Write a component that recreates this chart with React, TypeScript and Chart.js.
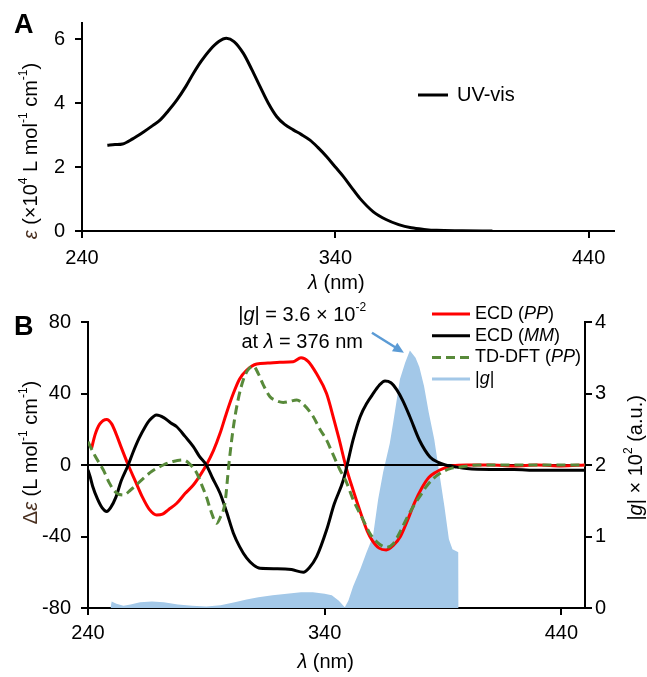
import React, { useEffect, useRef } from 'react';
import { Chart, registerables } from 'chart.js';
Chart.register(...registerables);

const FONT = '"Liberation Sans", Arial, Helvetica, sans-serif';

// ---------- Panel A : UV-vis ----------
const uvLambda = [250, 253, 256, 260, 264, 268, 271, 274, 277.4, 281, 284, 287, 290.5, 294, 297, 300, 303.7, 307, 310.3, 313.5, 316.9, 320, 323.4, 326.5, 330, 333, 336.6, 340, 343.2, 346.5, 349.7, 355, 360, 365, 370, 375, 380, 390, 402];
const uvEps = [2.68, 2.7, 2.72, 2.88, 3.08, 3.3, 3.48, 3.75, 4.09, 4.52, 4.93, 5.3, 5.66, 5.92, 6.02, 5.92, 5.55, 5.05, 4.51, 4.0, 3.57, 3.33, 3.16, 3.02, 2.84, 2.62, 2.32, 2.0, 1.7, 1.35, 1.02, 0.6, 0.36, 0.2, 0.1, 0.05, 0.02, 0.01, 0];
const uvTicksX = [240, 340, 440];
const uvTicksY = [0, 2, 4, 6];

// ---------- Panel B : ECD ----------
const ppLambda = [241.5, 243, 245, 247.9, 250, 252, 254, 257, 260, 263, 266, 269, 271.5, 274, 277.5, 281, 284.5, 287.5, 290, 293, 295.8, 298.5, 301.4, 304, 307, 311.3, 316, 321, 326.7, 330, 333, 336.6, 340.8, 344, 346, 349, 352, 355, 358, 360, 363, 366, 369, 372, 375, 378, 381, 384, 387, 390, 394, 400, 410, 420, 430, 440, 450];
const ppValues = [9.3, 17, 23, 25.5, 23, 17, 10, 0, -9, -18, -25, -28, -27.5, -25, -21.4, -16, -11.2, -5.5, 0, 8, 17.7, 29, 40, 48, 53, 56.5, 57, 57.5, 57.8, 60, 58, 51, 40, 25, 15, -1, -14, -26, -37, -42, -46.5, -47.5, -45, -40, -31, -21, -13, -7, -4, -2, -0.5, 0, 0, -0.5, 0, -0.5, 0];

const mmLambda = [240, 241, 242, 244, 246, 247.9, 249.5, 251.8, 254, 257, 259, 261.6, 264, 266, 269, 272, 275, 277.5, 281, 284.5, 287, 290, 292.5, 295.8, 298.5, 301.4, 304, 307, 310, 312.7, 320, 326, 331, 333.5, 336.6, 340.8, 344, 347.9, 349.5, 352, 355, 358, 360, 363, 365.5, 368, 370.5, 373, 376, 380, 384.5, 388, 391, 395, 400, 410, 420, 430, 440, 450];
const mmValues = [-2.8, -7, -12, -19, -24, -26, -24, -18, -9, 0, 7, 15, 21, 25, 28, 26.5, 23.5, 21.4, 16, 10.3, 5, 0, -7, -15.8, -26, -38, -45.5, -52, -56, -57.8, -58, -58.5, -60, -57.5, -51.3, -36.4, -22, -8.4, 0, 14, 27, 35, 39, 44.5, 47, 46, 42, 36, 27, 14, 4.5, 1.5, 0, -1, -2, -2.5, -2.5, -3, -3, -3];

const dftLambda = [240, 243, 246.5, 249, 251.5, 254.9, 258, 263.4, 267, 271.8, 276, 280.3, 283, 286, 288, 290, 292, 294.4, 296, 297.9, 299.5, 301.4, 303.5, 305.6, 307.5, 309.8, 312, 314, 316.9, 319.5, 322.5, 325, 328.2, 331, 335.2, 338, 340.8, 343, 346.5, 349, 352.1, 356, 359, 362, 366, 369, 372, 375, 378, 381, 383, 386, 389, 393, 398, 405, 450];
const dftValues = [13, 5, -2.8, -10, -15, -16.8, -14, -7.5, -3.5, 0, 2, 2.8, 0.5, -4.6, -11, -17.7, -26, -32.6, -29, -21, 0, 21, 37, 47.5, 53, 55.4, 51, 45, 38.2, 36, 35, 35.5, 36.4, 34, 27, 20, 14, 7.5, -2.8, -9, -19.6, -30, -38, -43, -46, -44, -37, -29, -22, -16, -12, -7.5, -4.5, -2, -1, 0, 0];

const gLambda = [249.5, 250, 252, 255, 258, 262, 267, 272, 278, 284, 290, 296, 302, 307, 312, 318, 324, 330, 335, 340, 343, 346, 348.5, 350, 352, 355, 357.7, 360.4, 362.6, 364.7, 367.5, 369, 371.8, 374, 376, 378.4, 380, 382, 384, 386.3, 388.4, 390.6, 392.5, 394, 396.5, 396.6];
const gValues = [0, 0.09, 0.06, 0.03, 0.05, 0.08, 0.09, 0.08, 0.05, 0.03, 0.02, 0.04, 0.08, 0.12, 0.15, 0.18, 0.2, 0.22, 0.22, 0.2, 0.18, 0.1, 0.01, 0.1, 0.3, 0.54, 0.78, 1.0, 1.52, 1.9, 2.3, 2.6, 3.2, 3.43, 3.6, 3.5, 3.37, 3.1, 2.73, 2.36, 1.9, 1.42, 0.96, 0.82, 0.78, 0];

const cdTicksX = [240, 340, 440];
const cdTicksY = [-80, -40, 0, 40, 80];
const gTicks = [0, 1, 2, 3, 4];

const RED = '#ff0000';
const GREEN = '#588a3a';
const BLUE = '#a3c8e8';
const ARROW = '#5b9bd5';

type Seg = { t: string; i?: boolean; sup?: boolean; c?: string };

function drawRich(ctx: CanvasRenderingContext2D, segs: Seg[], x: number, y: number, size: number, align: 'left' | 'center' = 'left', rot = 0) {
  ctx.save();
  ctx.translate(x, y);
  ctx.rotate(rot);
  ctx.textBaseline = 'middle';
  ctx.textAlign = 'left';
  const fonts = segs.map(s => `${s.i ? 'italic ' : ''}${s.sup ? Math.round(size * 0.62) : size}px ${FONT}`);
  const widths = segs.map((s, k) => { ctx.font = fonts[k]; return ctx.measureText(s.t).width; });
  const total = widths.reduce((a, b) => a + b, 0);
  let cx = align === 'center' ? -total / 2 : 0;
  segs.forEach((s, k) => {
    ctx.font = fonts[k];
    ctx.fillStyle = s.c || '#000';
    ctx.fillText(s.t, cx, s.sup ? -size * 0.36 : 0);
    cx += widths[k];
  });
  ctx.restore();
}

const gridOpts = { display: true, drawOnChartArea: false, drawTicks: true, tickLength: 7, tickWidth: 2, tickColor: '#000', color: '#000', lineWidth: 2 };
const borderOpts = { display: true, color: '#000', width: 2 };
const tickFont = { family: FONT, size: 20 };

const panelAPlugin = {
  id: 'panelA',
  afterDraw(chart: any) {
    const ctx = chart.ctx as CanvasRenderingContext2D;
    const ca = chart.chartArea;
    const { x, y } = chart.scales;
    ctx.save();
    ctx.font = `bold 27px ${FONT}`;
    ctx.fillStyle = '#000';
    ctx.textBaseline = 'middle';
    ctx.textAlign = 'left';
    ctx.fillText('A', 14, 26);
    drawRich(ctx, [{ t: 'ε', i: true, c: '#4a3020' }, { t: ' (×10' }, { t: '4', sup: true }, { t: ' L mol' }, { t: '-1', sup: true }, { t: ' cm' }, { t: '-1', sup: true }, { t: ')' }], 31, y.getPixelForValue(2.5), 20, 'center', -Math.PI / 2);
    drawRich(ctx, [{ t: 'λ', i: true }, { t: ' (nm)' }], x.getPixelForValue(340) + 1, ca.bottom + 52, 20, 'center');
    // legend
    ctx.strokeStyle = '#000';
    ctx.lineWidth = 3;
    ctx.beginPath();
    ctx.moveTo(ca.left + 336, ca.top + 72);
    ctx.lineTo(ca.left + 366, ca.top + 72);
    ctx.stroke();
    drawRich(ctx, [{ t: 'UV-vis' }], ca.left + 375, ca.top + 72, 20, 'left');
    ctx.restore();
  },
};

const panelBPlugin = {
  id: 'panelB',
  afterDatasetDraw(chart: any, args: any) {
    if (args.index !== 3) return;
    const ctx = chart.ctx as CanvasRenderingContext2D;
    const ca = chart.chartArea;
    const y0 = chart.scales.y.getPixelForValue(0);
    ctx.save();
    ctx.strokeStyle = '#000';
    ctx.lineWidth = 2;
    ctx.beginPath();
    ctx.moveTo(ca.left, y0);
    ctx.lineTo(ca.right, y0);
    ctx.stroke();
    ctx.restore();
  },
  afterDraw(chart: any) {
    const ctx = chart.ctx as CanvasRenderingContext2D;
    const ca = chart.chartArea;
    const { x, y, yR } = chart.scales;
    ctx.save();
    ctx.font = `bold 27px ${FONT}`;
    ctx.fillStyle = '#000';
    ctx.textBaseline = 'middle';
    ctx.textAlign = 'left';
    ctx.fillText('B', 14, 28);
    drawRich(ctx, [{ t: 'Δ', c: '#4a3020' }, { t: 'ε', i: true, c: '#4a3020' }, { t: ' (L mol' }, { t: '-1', sup: true }, { t: ' cm' }, { t: '-1', sup: true }, { t: ')' }], 31, y.getPixelForValue(7), 20, 'center', -Math.PI / 2);
    drawRich(ctx, [{ t: '|' }, { t: 'g', i: true }, { t: '| × 10' }, { t: '2', sup: true }, { t: ' (a.u.)' }], 636, yR.getPixelForValue(2.1), 20, 'center', -Math.PI / 2);
    drawRich(ctx, [{ t: 'λ', i: true }, { t: ' (nm)' }], x.getPixelForValue(340) + 1, ca.bottom + 54, 20, 'center');

    // annotation
    const ax = x.getPixelForValue(330.5);
    drawRich(ctx, [{ t: '|' }, { t: 'g', i: true }, { t: '| = 3.6 × 10' }, { t: '-2', sup: true }], ax, ca.top - 7, 20, 'center');
    drawRich(ctx, [{ t: 'at ' }, { t: 'λ', i: true }, { t: ' = 376 nm' }], ax, ca.top + 20, 20, 'center');
    const ex = x.getPixelForValue(373.5);
    const ey = yR.getPixelForValue(3.57);
    const sx = ex - 32, sy = ey - 20;
    const ang = Math.atan2(ey - sy, ex - sx);
    ctx.strokeStyle = ARROW;
    ctx.fillStyle = ARROW;
    ctx.lineWidth = 2.5;
    ctx.beginPath();
    ctx.moveTo(sx, sy);
    ctx.lineTo(ex - 8 * Math.cos(ang), ey - 8 * Math.sin(ang));
    ctx.stroke();
    ctx.beginPath();
    ctx.moveTo(ex, ey);
    ctx.lineTo(ex - 11 * Math.cos(ang) + 5 * Math.sin(ang), ey - 11 * Math.sin(ang) - 5 * Math.cos(ang));
    ctx.lineTo(ex - 11 * Math.cos(ang) - 5 * Math.sin(ang), ey - 11 * Math.sin(ang) + 5 * Math.cos(ang));
    ctx.closePath();
    ctx.fill();

    // legend
    const rows: { c: string; dash: number[]; segs: Seg[] }[] = [
      { c: RED, dash: [], segs: [{ t: 'ECD (' }, { t: 'PP', i: true }, { t: ')' }] },
      { c: '#000', dash: [], segs: [{ t: 'ECD (' }, { t: 'MM', i: true }, { t: ')' }] },
      { c: GREEN, dash: [9, 5], segs: [{ t: 'TD-DFT (' }, { t: 'PP', i: true }, { t: ')' }] },
      { c: BLUE, dash: [], segs: [{ t: '|' }, { t: 'g', i: true }, { t: '|' }] },
    ];
    rows.forEach((r, k) => {
      const ly = ca.top - 8 + k * 21.7;
      ctx.strokeStyle = r.c;
      ctx.lineWidth = 3;
      ctx.setLineDash(r.dash);
      ctx.beginPath();
      ctx.moveTo(ca.right - 153, ly);
      ctx.lineTo(ca.right - 115, ly);
      ctx.stroke();
      ctx.setLineDash([]);
      drawRich(ctx, r.segs, ca.right - 110, ly, 18, 'left');
    });
    ctx.restore();
  },
};

export default function App() {
  const refA = useRef<HTMLCanvasElement>(null);
  const refB = useRef<HTMLCanvasElement>(null);

  useEffect(() => {
    const chartA = new Chart(refA.current as HTMLCanvasElement, {
      type: 'line',
      data: {
        datasets: [
          {
            label: 'UV-vis',
            data: uvLambda.map((l, i) => ({ x: l, y: uvEps[i] })),
            borderColor: '#000',
            borderWidth: 3,
            pointRadius: 0,
            cubicInterpolationMode: 'monotone',
            fill: false,
          },
        ],
      },
      options: {
        responsive: false,
        animation: false,
        layout: { padding: { top: 23, right: 33, left: 0, bottom: 0 } },
        plugins: { legend: { display: false }, tooltip: { enabled: false } },
        scales: {
          x: {
            type: 'linear',
            min: 240,
            max: 450,
            afterBuildTicks: (s: any) => { s.ticks = uvTicksX.map(v => ({ value: v })); },
            afterFit: (s: any) => { s.height = 69; },
            ticks: { font: tickFont, color: '#000', padding: 8, maxRotation: 0 },
            grid: gridOpts,
            border: borderOpts,
          },
          y: {
            type: 'linear',
            min: 0,
            max: 6.5,
            afterBuildTicks: (s: any) => { s.ticks = uvTicksY.map(v => ({ value: v })); },
            afterFit: (s: any) => { s.width = 82; },
            ticks: { font: tickFont, color: '#000', padding: 10 },
            grid: gridOpts,
            border: borderOpts,
          },
        },
      } as any,
      plugins: [panelAPlugin],
    });

    const chartB = new Chart(refB.current as HTMLCanvasElement, {
      type: 'line',
      data: {
        datasets: [
          {
            label: 'ECD (PP)',
            data: ppLambda.map((l, i) => ({ x: l, y: ppValues[i] })),
            borderColor: RED,
            borderWidth: 3,
            pointRadius: 0,
            cubicInterpolationMode: 'monotone',
            yAxisID: 'y',
            order: 2,
          },
          {
            label: 'ECD (MM)',
            data: mmLambda.map((l, i) => ({ x: l, y: mmValues[i] })),
            borderColor: '#000',
            borderWidth: 3,
            pointRadius: 0,
            cubicInterpolationMode: 'monotone',
            yAxisID: 'y',
            order: 1,
          },
          {
            label: 'TD-DFT (PP)',
            data: dftLambda.map((l, i) => ({ x: l, y: dftValues[i] })),
            borderColor: GREEN,
            borderWidth: 3,
            borderDash: [9, 5],
            pointRadius: 0,
            cubicInterpolationMode: 'monotone',
            yAxisID: 'y',
            order: 0,
          },
          {
            label: '|g|',
            data: gLambda.map((l, i) => ({ x: l, y: gValues[i] })),
            borderWidth: 0,
            borderColor: BLUE,
            backgroundColor: BLUE,
            pointRadius: 0,
            tension: 0,
            fill: 'origin',
            yAxisID: 'yR',
            order: 3,
          },
        ],
      },
      options: {
        responsive: false,
        animation: false,
        layout: { padding: { top: 22, right: 0, left: 0, bottom: 0 } },
        plugins: { legend: { display: false }, tooltip: { enabled: false } },
        scales: {
          x: {
            type: 'linear',
            min: 240,
            max: 450,
            afterBuildTicks: (s: any) => { s.ticks = cdTicksX.map(v => ({ value: v })); },
            afterFit: (s: any) => { s.height = 69; },
            ticks: { font: tickFont, color: '#000', padding: 6, maxRotation: 0 },
            grid: gridOpts,
            border: borderOpts,
          },
          y: {
            type: 'linear',
            position: 'left',
            min: -80,
            max: 80,
            afterBuildTicks: (s: any) => { s.ticks = cdTicksY.map(v => ({ value: v })); },
            afterFit: (s: any) => { s.width = 88; },
            ticks: { font: tickFont, color: '#000', padding: 10 },
            grid: gridOpts,
            border: borderOpts,
          },
          yR: {
            type: 'linear',
            position: 'right',
            min: 0,
            max: 4,
            afterBuildTicks: (s: any) => { s.ticks = gTicks.map(v => ({ value: v })); },
            afterFit: (s: any) => { s.width = 62; },
            ticks: { font: tickFont, color: '#000', padding: 3 },
            grid: gridOpts,
            border: borderOpts,
          },
        },
      } as any,
      plugins: [panelBPlugin],
    });

    return () => {
      chartA.destroy();
      chartB.destroy();
    };
  }, []);

  return (
    <div style={{ position: 'absolute', left: 0, top: 0, width: 647, height: 677, background: '#fff' }}>
      <canvas ref={refA} width={647} height={300} style={{ position: 'absolute', left: 0, top: 0 }} />
      <canvas ref={refB} width={647} height={377} style={{ position: 'absolute', left: 0, top: 300 }} />
    </div>
  );
}
